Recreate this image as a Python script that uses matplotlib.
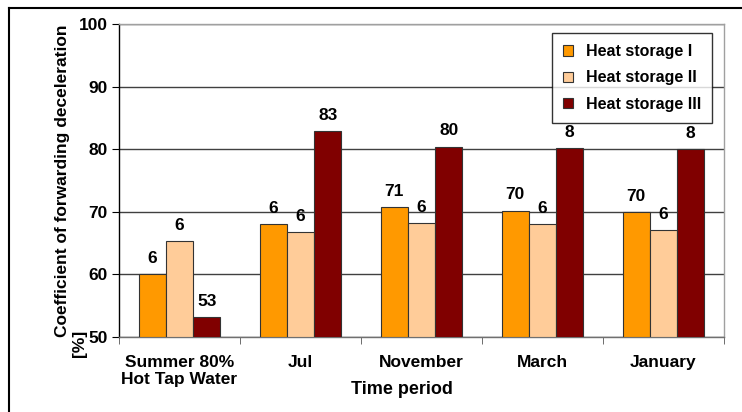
import matplotlib
matplotlib.use("Agg")
import matplotlib.pyplot as plt
from matplotlib.lines import Line2D
import numpy as np

categories = ["Summer 80%\nHot Tap Water", "Jul", "November", "March", "January"]
series_names = ["Heat storage I", "Heat storage II", "Heat storage III"]
storage_1 = [60.0, 68.0, 70.7, 70.2, 69.9]
storage_2 = [65.3, 66.7, 68.2, 68.0, 67.1]
storage_3 = [53.2, 82.9, 80.4, 80.2, 80.0]
labels_1 = ["6", "6", "71", "70", "70"]
labels_2 = ["6", "6", "6", "6", "6"]
labels_3 = ["53", "83", "80", "8", "8"]
y_ticks = [50, 60, 70, 80, 90, 100]

colors = ["#FF9900", "#FFCC99", "#800000"]

plt.rcParams['font.family'] = ['Liberation Sans', 'DejaVu Sans']
plt.rcParams['font.weight'] = 'bold'

fig = plt.figure(figsize=(7.42, 4.12), dpi=100)
ax = fig.add_axes([119/742, 1-337/412, (724-119)/742, (337-24)/412])

x = np.arange(len(categories))
w = 0.225
series = [storage_1, storage_2, storage_3]
labels = [labels_1, labels_2, labels_3]
for i, (vals, labs) in enumerate(zip(series, labels)):
    pos = x + (i - 1) * w
    bars = ax.bar(pos, np.array(vals) - 50, bottom=50, width=w, color=colors[i],
                  edgecolor="#333333", linewidth=0.8, label=series_names[i], zorder=3)
    for b, lab, v in zip(bars, labs, vals):
        ax.annotate(lab, (b.get_x() + b.get_width()/2, v), xytext=(0, 6),
                    textcoords="offset points", ha="center", va="bottom",
                    fontsize=12.5, fontweight="bold", zorder=4)

ax.set_ylim(50, 100)
ax.set_xlim(-0.5, len(categories) - 0.5)
ax.set_yticks(y_ticks)
ax.set_yticklabels([str(t) for t in y_ticks], fontsize=12.5, fontweight="bold")
ax.yaxis.grid(True, color="#404040", linewidth=1, zorder=0)
ax.set_axisbelow(True)

ax.set_xticks(x)
ax.set_xticklabels(categories, fontsize=12.5, fontweight="bold")
ax.tick_params(axis="x", which="major", length=0, pad=13)
ax.set_xticks(np.arange(-0.5, len(categories)), minor=True)
ax.tick_params(axis="x", which="minor", length=5, color="#555555", direction="out")
ax.tick_params(axis="y", length=5, color="black", direction="out", pad=3)

ax.spines["left"].set_color("black")
ax.spines["bottom"].set_color("#707070")
ax.spines["top"].set_color("#a0a0a0")
ax.spines["right"].set_color("#a0a0a0")
for s in ax.spines.values():
    s.set_linewidth(1)

ax.set_xlabel("Time period", fontsize=13, fontweight="bold")
ax.xaxis.set_label_coords((402-119)/605, -(390-337)/313, transform=ax.transAxes)
ax.xaxis.label.set_va("center")

ax.set_ylabel("Coefficient of forwarding deceleration", fontsize=12.5, fontweight="bold")
ax.yaxis.set_label_coords((62-119)/605, 0.0, transform=ax.transAxes)
ax.yaxis.label.set_va("center")
ax.yaxis.label.set_ha("left")
ax.yaxis.label.set_rotation_mode("anchor")
fig.text(79/742, 1-357/412, "[%]", rotation=90, fontsize=12.5, fontweight="bold",
         ha="center", va="bottom")

leg = ax.legend(loc="upper left", bbox_to_anchor=(552/742, 1-33/412),
                bbox_transform=fig.transFigure, frameon=True, fancybox=False,
                edgecolor="black", prop={"size": 11.5, "weight": "bold"},
                handlelength=0.6, handleheight=0.6, borderpad=0.7,
                labelspacing=0.7, handletextpad=0.8, borderaxespad=0)
leg.get_frame().set_linewidth(1)

fig.add_artist(Line2D([9/742, 1], [1-8/412, 1-8/412], color="black", linewidth=1.5,
                      transform=fig.transFigure))
fig.add_artist(Line2D([9/742, 9/742], [0, 1-8/412], color="black", linewidth=1.5,
                      transform=fig.transFigure))

fig.savefig("out.png", dpi=100)
